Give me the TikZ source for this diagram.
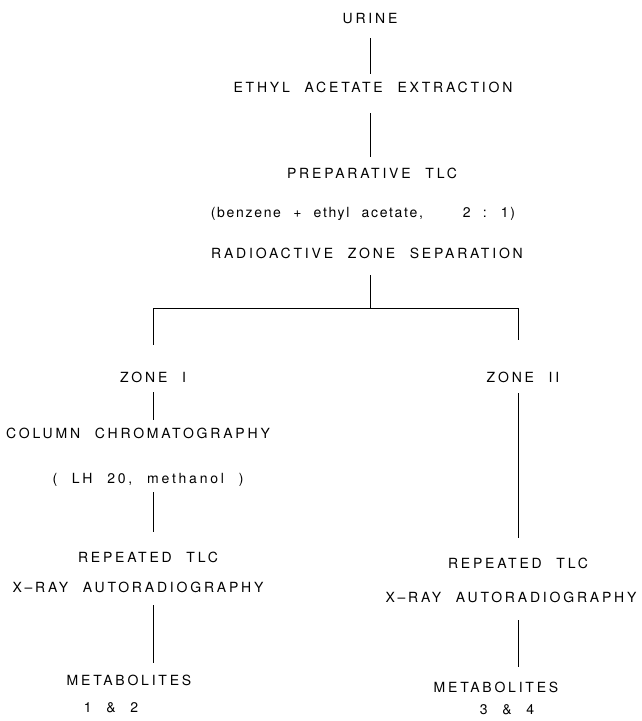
\documentclass[tikz,border=0pt]{standalone}
\usepackage{fontspec}
\newfontfamily\lettering[LetterSpace=20,WordSpace=2.2]{TeX Gyre Heros}
\newfontfamily\smalllettering[LetterSpace=12,WordSpace=2.2]{TeX Gyre Heros}
\usetikzlibrary{positioning}

\begin{document}
\begin{tikzpicture}[
  x=1pt,y=-1pt,
  step label/.style={inner sep=0pt,text height=10pt,text depth=0pt,
    font=\lettering\fontsize{14}{16}\selectfont},
  note label/.style={step label,font=\smalllettering\fontsize{14}{16}\selectfont},
  link/.style={line width=1pt}
]
  \useasboundingbox (0,0) rectangle (641,721);
  \node[step label] (urine)   at (370,18)  {URINE};
  \node[step label] (extract) at (373,87)  {ETHYL ACETATE EXTRACTION};
  \node[step label] (prep)    at (372,173) {PREPARATIVE TLC};
  \node[note label] (solvent) at (363,212) {(benzene + ethyl acetate,\hspace{40pt}2 : 1)};
  \node[step label] (radio)   at (367,253) {RADIOACTIVE ZONE SEPARATION};
  \node[step label] (zone1)   at (153,377) {ZONE I};
  \node[step label] (zone2)   at (523,377) {ZONE II};
  \node[step label] (column)  at (138,433) {COLUMN CHROMATOGRAPHY};
  \node[step label] (lh)      at (148,478) {( LH 20, methanol )};
  \node[step label] (rep1)    at (148,557) {REPEATED TLC};
  \node[step label] (xray1)   at (138,587) {X–RAY AUTORADIOGRAPHY};
  \node[step label] (met1)    at (129,680) {METABOLITES};
  \node[step label] (pair1)   at (111,707) {1 \& 2};
  \node[step label] (rep2)    at (518,563) {REPEATED TLC};
  \node[step label] (xray2)   at (511,597) {X–RAY AUTORADIOGRAPHY};
  \node[step label] (met2)    at (496,687) {METABOLITES};
  \node[step label] (pair2)   at (507,709) {3 \& 4};
  \coordinate (fork) at (370,308);

  \draw[link,shorten <=15pt,shorten >=8pt] (urine.south) -- (urine.south |- extract.north);
  \draw[link,shorten <=21pt,shorten >=11pt] (urine.south |- extract.south) -- (urine.south |- prep.north);
  \draw[link,shorten <=17pt] (fork |- radio.south) -- (fork);
  \draw[link,shorten >=27pt] (fork) -| (zone1.north);
  \draw[link,shorten >=32pt] (fork) -| (rep2.north |- zone2.north);
  \draw[link,shorten <=10pt,shorten >=8pt] (zone1.south) -- (zone1.south |- column.north);
  \draw[link,shorten <=9pt,shorten >=20pt] (zone1.south |- lh.south) -- (zone1.south |- rep1.north);
  \draw[link,shorten <=13pt,shorten >=12pt] (zone1.south |- xray1.south) -- (zone1.south |- met1.north);
  \draw[link,shorten <=11pt,shorten >=20pt] (rep2.north |- zone2.south) -- (rep2.north);
  \draw[link,shorten <=18pt,shorten >=15pt] (rep2.north |- xray2.south) -- (rep2.north |- met2.north);
\end{tikzpicture}
\end{document}
